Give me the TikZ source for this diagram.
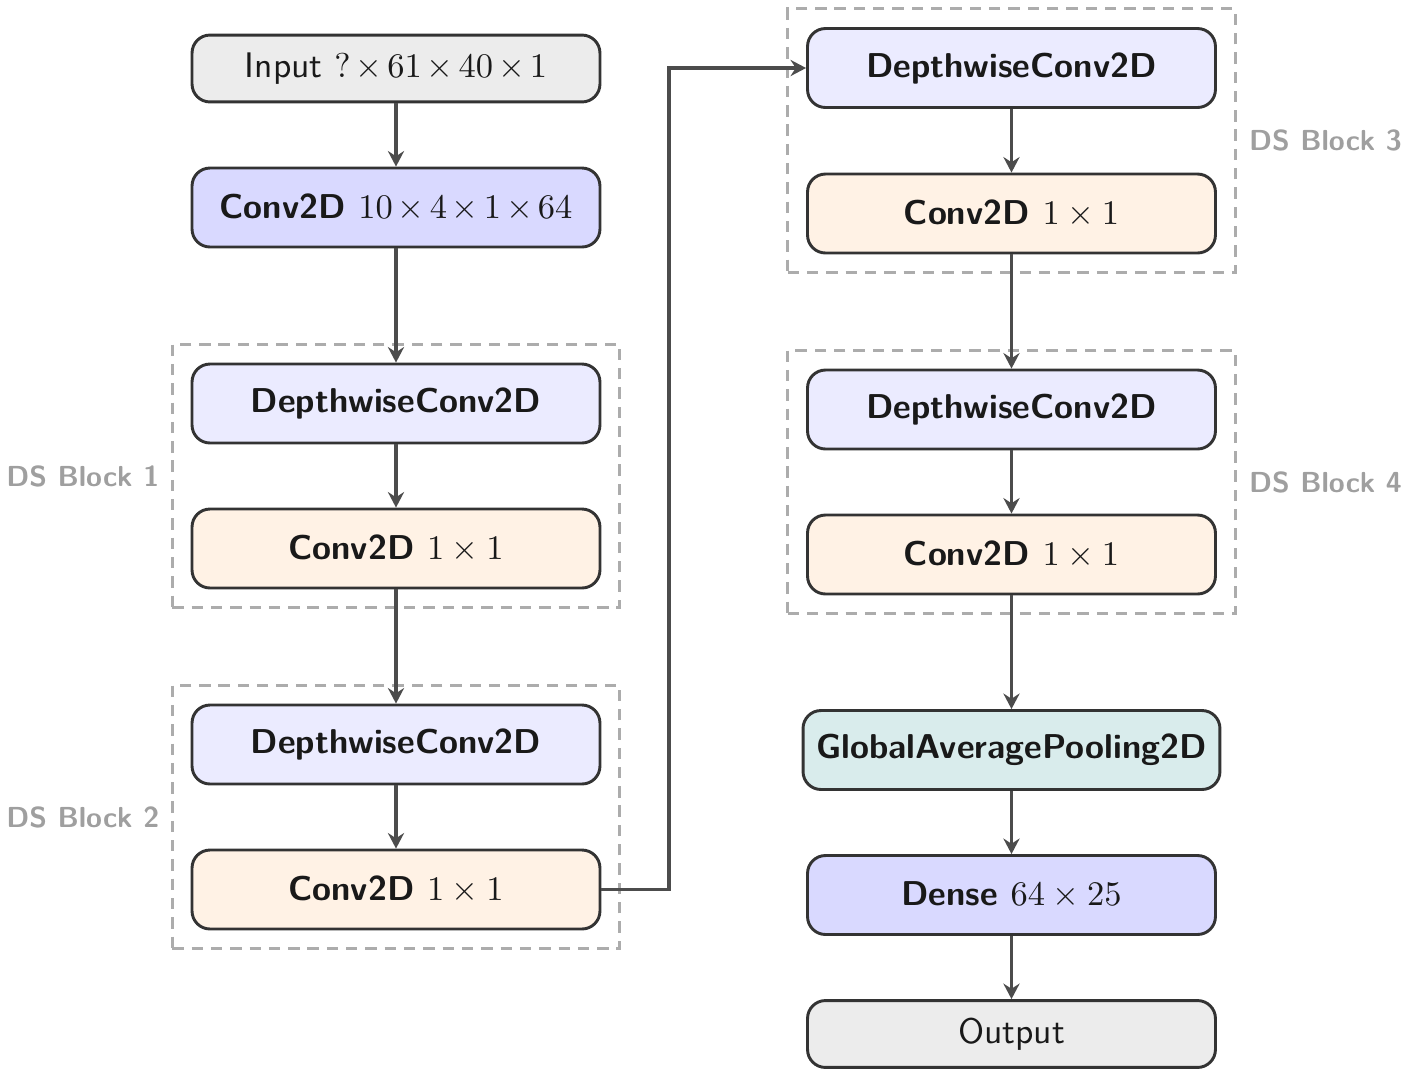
\documentclass[tikz,border=0pt]{standalone}
\usetikzlibrary{arrows.meta,fit,positioning}
\begin{document}
\begin{tikzpicture}[x=0.29pt,y=-0.29pt,
  layer/.style={draw=black!80, line width=0.85pt, rounded corners=5.2pt,
    minimum width=118.3pt, minimum height=22.9pt, inner sep=0pt,
    font=\sffamily\bfseries, text=black!90},
  io/.style={layer, minimum height=19.4pt, font=\fontsize{10.3}{12}\selectfont\sffamily\mdseries},
  inbox/.style={io, fill=gray!15},
  convbig/.style={layer, fill=blue!15},
  dwbox/.style={layer, fill=blue!8},
  pwbox/.style={layer, fill=orange!10},
  gapbox/.style={layer, fill=teal!15, minimum width=120.9pt},
  blockbox/.style={draw=gray!65, dashed, dash pattern=on 3.3pt off 2.3pt, line width=0.8pt, inner sep=5.3pt},
  blocklabel/.style={text=gray!75, inner sep=0pt, font=\fontsize{8.4}{10}\selectfont\sffamily\bfseries},
  arr/.style={draw=black!70, line width=0.9pt, -{Stealth[length=4.5pt,width=4.7pt,inset=1.5pt]}}
]
\useasboundingbox (0,0) rectangle (1408,1077);

\node[inbox] (in) at (396,68.5) {Input $\medmuskip=2.6mu ?\times61\times40\times1$};
\node[convbig] (c0) at (396,207.5) {Conv2D $\medmuskip=2.6mu 10\times4\times1\times64$};
\node[dwbox] (d1) at (396,403.5) {DepthwiseConv2D};
\node[pwbox] (p1) at (396,548.5) {Conv2D $1\times1$};
\node[dwbox] (d2) at (396,744.5) {DepthwiseConv2D};
\node[pwbox] (p2) at (396,889.5) {Conv2D $1\times1$};

\node[dwbox] (d3) at (1011.5,68) {DepthwiseConv2D};
\node[pwbox] (p3) at (1011.5,213.5) {Conv2D $1\times1$};
\node[dwbox] (d4) at (1011.5,409.5) {DepthwiseConv2D};
\node[pwbox] (p4) at (1011.5,554.5) {Conv2D $1\times1$};
\node[gapbox] (gap) at (1011.5,750) {GlobalAveragePooling2D};
\node[convbig] (dense) at (1011.5,895) {Dense $64\times25$};
\node[inbox] (out) at (1011.5,1034) {Output};

\node[blockbox, fit=(d1)(p1)] (b1) {};
\node[blockbox, fit=(d2)(p2)] (b2) {};
\node[blockbox, fit=(d3)(p3)] (b3) {};
\node[blockbox, fit=(d4)(p4)] (b4) {};

\node[blocklabel, anchor=east] (l1) at ([xshift=-3.2pt]b1.west) {DS Block 1};
\node[blocklabel, anchor=east] (l2) at ([xshift=-3.2pt]b2.west) {DS Block 2};
\node[blocklabel, anchor=west] (l3) at ([xshift=3.4pt]b3.east) {DS Block 3};
\node[blocklabel, anchor=west] (l4) at ([xshift=3.4pt]b4.east) {DS Block 4};

\coordinate (bend) at (669,889.5);

\draw[arr] (in) -- (c0);
\draw[arr] (c0) -- (d1);
\draw[arr] (d1) -- (p1);
\draw[arr] (p1) -- (d2);
\draw[arr] (d2) -- (p2);
\draw[arr] (p2.east) -- (bend) |- (d3.west);
\draw[arr] (d3) -- (p3);
\draw[arr] (p3) -- (d4);
\draw[arr] (d4) -- (p4);
\draw[arr] (p4) -- (gap);
\draw[arr] (gap) -- (dense);
\draw[arr] (dense) -- (out);
\end{tikzpicture}
\end{document}
